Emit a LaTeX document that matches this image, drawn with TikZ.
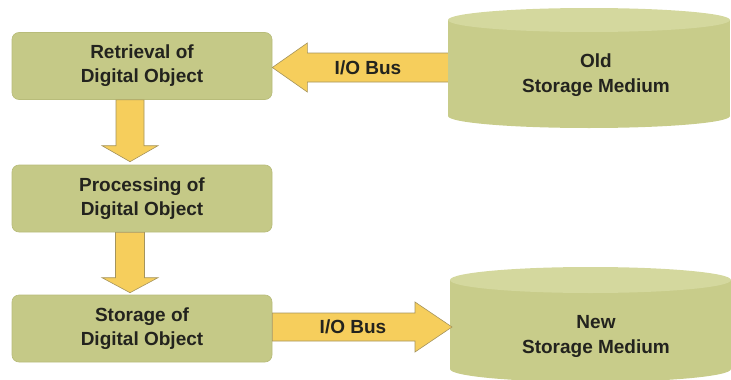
\documentclass[tikz,border=0pt]{standalone}
\usepackage{fontspec}
\setmainfont{Liberation Sans}
\usetikzlibrary{calc}
\definecolor{boxfill}{RGB}{197,201,135}
\definecolor{boxedge}{RGB}{184,188,122}
\definecolor{cylbody}{RGB}{200,204,138}
\definecolor{cyltop}{RGB}{212,216,158}
\definecolor{arrowfill}{RGB}{246,206,92}
\definecolor{arrowedge}{RGB}{165,148,92}
\definecolor{txt}{RGB}{35,35,30}
\begin{document}
\begin{tikzpicture}[x=1pt,y=-1pt,
  procbox/.style={rectangle, rounded corners=7pt, fill=boxfill, draw=boxedge, line width=0.6pt,
    minimum width=260pt, minimum height=67pt, inner sep=0pt, align=center,
    font=\fontsize{19}{24}\selectfont\bfseries, text=txt},
  blockarrow/.style={fill=arrowfill, draw=arrowedge, line width=0.6pt, line join=miter},
  lbl/.style={font=\fontsize{19}{25}\selectfont\bfseries, text=txt, align=center, inner sep=0pt}]
\useasboundingbox (0,0) rectangle (731,380);
\clip (0,0) rectangle (731,380);

% process boxes
\node[procbox] (b1) at (142,66) {Retrieval of\\Digital Object};
\node[procbox] (b2) at (142,198.5) {Processing of\\Digital Object};
\node[procbox] (b3) at (142,328.5) {Storage of\\Digital Object};

% down arrows
\coordinate (a1s) at ($(b1.south)+(-12,0)$);
\coordinate (a1t) at ($(b2.north)+(-12,-3)$);
\draw[blockarrow] ($(a1s)+(-14,0)$) -- ($(a1t)+(-14,-16)$) -- ($(a1t)+(-28,-16)$) -- (a1t)
  -- ($(a1t)+(28,-16)$) -- ($(a1t)+(14,-16)$) -- ($(a1s)+(14,0)$) -- cycle;
\coordinate (a2s) at ($(b2.south)+(-12,0)$);
\coordinate (a2t) at ($(b3.north)+(-12,-2)$);
\draw[blockarrow] ($(a2s)+(-14.5,0)$) -- ($(a2t)+(-14.5,-15)$) -- ($(a2t)+(-28,-15)$) -- (a2t)
  -- ($(a2t)+(28,-15)$) -- ($(a2t)+(14.5,-15)$) -- ($(a2s)+(14.5,0)$) -- cycle;

% top I/O bus arrow (old medium -> retrieval)
\coordinate (busAt) at ($(b1.east)+(0,1.5)$);
\draw[blockarrow] (busAt) -- ++(35,-24.5) -- ++(0,10) -- ++(170,0) -- ++(0,29) -- ++(-170,0) -- ++(0,10) -- cycle;

% old storage medium cylinder
\fill[cylbody] (448,20) rectangle (730,116);
\fill[cylbody] (589,116) ellipse [x radius=141pt, y radius=12pt];
\fill[cyltop] (589,20) ellipse [x radius=141pt, y radius=12pt];
\node[lbl] (oldlbl) at (596,75) {Old\\Storage Medium};

% new storage medium cylinder
\fill[cylbody] (450,280) rectangle (731,369);
\fill[cylbody] (590.5,369) ellipse [x radius=140.5pt, y radius=13pt];
\fill[cyltop] (590.5,280) ellipse [x radius=140.5pt, y radius=13pt];
\coordinate (newL) at (450,327);
\node[lbl] (newlbl) at (596,336) {New\\Storage Medium};

% bottom I/O bus arrow (storage -> new medium)
\coordinate (busBs) at ($(b3.east)+(0,-1.5)$);
\coordinate (busBt) at ($(newL)+(2,0)$);
\draw[blockarrow] ($(busBs)+(0,-14)$) -- ($(busBt)+(-37,-14)$) -- ($(busBt)+(-37,-25)$) -- (busBt)
  -- ($(busBt)+(-37,25)$) -- ($(busBt)+(-37,14)$) -- ($(busBs)+(0,14)$) -- cycle;

% bus labels
\node[lbl] (bus1) at (368,68) {I/O Bus};
\node[lbl] (bus2) at (353,327) {I/O Bus};
\end{tikzpicture}
\end{document}
